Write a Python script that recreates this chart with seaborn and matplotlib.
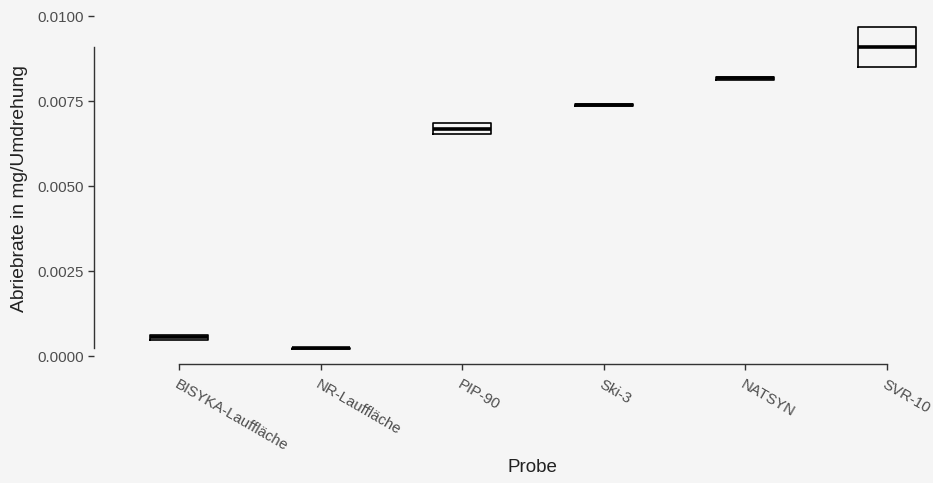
import matplotlib
matplotlib.use("Agg")
import matplotlib.pyplot as plt
from matplotlib.transforms import ScaledTranslation
import pandas as pd
import seaborn as sns

# data (lower hinge, median, upper hinge)
samples = ["BISYKA-Lauffläche", "NR-Lauffläche", "PIP-90", "Ski-3", "NATSYN", "SVR-10"]
box_low = [0.00047, 0.00021, 0.00653, 0.00736, 0.00813, 0.00850]
box_mid = [0.00055, 0.00023, 0.00668, 0.00738, 0.00817, 0.00909]
box_high = [0.00062, 0.00024, 0.00685, 0.00740, 0.00822, 0.00968]
y_ticks = [0.0, 0.0025, 0.005, 0.0075, 0.01]

# long table: five points per sample so the hinges land on the read values
rows = []
for name, lo, md, hi in zip(samples, box_low, box_mid, box_high):
    for v in [lo, lo, md, hi, hi]:
        rows.append({"Probe": name, "rate": v})
df = pd.DataFrame(rows)

BG = "#F5F5F5"
plt.rcParams["font.family"] = ["Liberation Sans", "DejaVu Sans"]

fig = plt.figure(figsize=(9.33, 4.83), dpi=100, facecolor=BG)
# panel runs past the right edge, like the cropped original
ax = fig.add_axes([94 / 933, 119 / 483, 878 / 933, 359 / 483])
ax.set_facecolor(BG)

sns.boxplot(data=df, x="Probe", y="rate", order=samples, width=0.41, whis=0,
            showfliers=False, showcaps=False, fill=False, color="black",
            linewidth=1.2, medianprops={"linewidth": 2.6, "color": "black"}, ax=ax)

ax.set_xlim(-0.6, 5.6)
ax.set_ylim(-0.000235, 0.010324)
ax.set_xticks(range(len(samples)))
ax.set_xticklabels(samples, rotation=-30, ha="left", va="top", rotation_mode="anchor")
offset = ScaledTranslation(5 / 100, 0, fig.dpi_scale_trans)
for lab in ax.get_xticklabels():
    lab.set_transform(lab.get_transform() + offset)
ax.set_yticks(y_ticks)
ax.set_yticklabels([f"{t:.4f}" for t in y_ticks])

for side in ["top", "right"]:
    ax.spines[side].set_visible(False)
ax.spines["left"].set_bounds(min(box_mid), max(box_mid))
ax.spines["bottom"].set_bounds(0, len(samples) - 1)
for side in ["left", "bottom"]:
    ax.spines[side].set_color("#333333")
    ax.spines[side].set_linewidth(1.0)

ax.tick_params(axis="both", length=4, width=1.0, color="#333333",
               labelcolor="#4D4D4D", labelsize=10.8)
ax.tick_params(axis="x", pad=6)

ax.set_xlabel("Probe", fontsize=13.5, color="#222222")
ax.set_ylabel("Abriebrate in mg/Umdrehung", fontsize=13.9, color="#222222")
ax.xaxis.set_label_coords(0.499, -0.265)
ax.yaxis.set_label_coords(-0.075, 0.49)

fig.savefig("out.png", dpi=100, facecolor=BG)
